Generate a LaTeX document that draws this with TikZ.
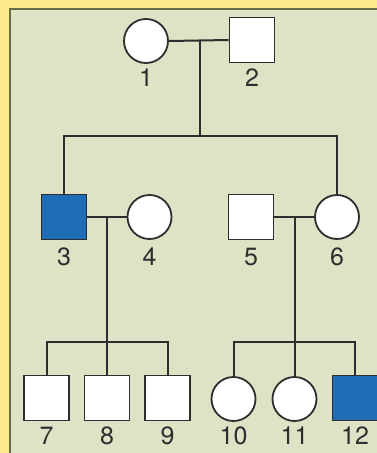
\documentclass[tikz,border=0pt]{standalone}
\usepackage{fontspec}
\setmainfont{TeX Gyre Heros}
\definecolor{bgyellow}{HTML}{FBE98C}
\definecolor{panel}{HTML}{DEE3C6}
\definecolor{panelline}{HTML}{6B6B45}
\definecolor{affected}{HTML}{1F6DB7}
\definecolor{ink}{HTML}{2E2E2E}
\tikzset{
  person/.style={draw=ink, line width=1.8pt, fill=white, inner sep=0pt},
  female/.style={person, circle, minimum size=44pt},
  male/.style={person, rectangle, minimum size=45pt},
  affmale/.style={male, fill=affected},
  lab/.style={inner sep=0pt, font=\fontsize{25}{27}\selectfont, text=ink},
  link/.style={draw=ink, line width=2pt}
}
\begin{document}
\begin{tikzpicture}[x=1pt, y=-1pt]
\useasboundingbox (0,0) rectangle (377,453);
\fill[bgyellow] (0,0) rectangle (377,453);
\fill[panel] (10,9) rectangle (377,453);
\draw[panelline, line width=1.8pt] (10,453) -- (10,9) -- (377,9);

% generation I
\node[female] (n1) at (146,41) {};
\node[male] (n2) at (252,40) {};
% generation II
\node[affmale] (n3) at (64,217) {};
\node[female] (n4) at (149.5,217) {};
\node[male] (n5) at (251,217) {};
\node[female] (n6) at (337,217) {};
% generation III
\node[male] (n7) at (46.5,398) {};
\node[male] (n8) at (107,398) {};
\node[male] (n9) at (167.5,398) {};
\node[female] (n10) at (233.5,399) {};
\node[female] (n11) at (294.5,399) {};
\node[affmale] (n12) at (355,398) {};

% labels
\node[lab] (l1) at (146,78) {1};
\node[lab] (l2) at (252,78) {2};
\node[lab] (l3) at (64,257) {3};
\node[lab] (l4) at (149.5,257) {4};
\node[lab] (l5) at (251,257) {5};
\node[lab] (l6) at (337,257) {6};
\node[lab] (l7) at (46.5,436) {7};
\node[lab] (l8) at (107,436) {8};
\node[lab] (l9) at (167.5,436) {9};
\node[lab] (l10) at (233.5,436) {10};
\node[lab] (l11) at (294.5,436) {11};
\node[lab] (l12) at (355,436) {12};

% junction points
\coordinate (m12) at (200,40);
\coordinate (s1) at (200,136);
\coordinate (m34) at (107,217);
\coordinate (s2) at (107,342);
\coordinate (m56) at (294.5,217);
\coordinate (s3) at (294.5,342);

% marriages
\draw[link] (n1.east) -- (n2.west);
\draw[link] (n3.east) -- (n4.west);
\draw[link] (n5.east) -- (n6.west);

% descent
\draw[link] (m12) -- (s1);
\draw[link] (n3.north) |- (s1) -| (n6.north);
\draw[link] (m34) -- (n8.north);
\draw[link] (n7.north) |- (s2) -| (n9.north);
\draw[link] (m56) -- (n11.north);
\draw[link] (n10.north) |- (s3) -| (n12.north);
\end{tikzpicture}
\end{document}
